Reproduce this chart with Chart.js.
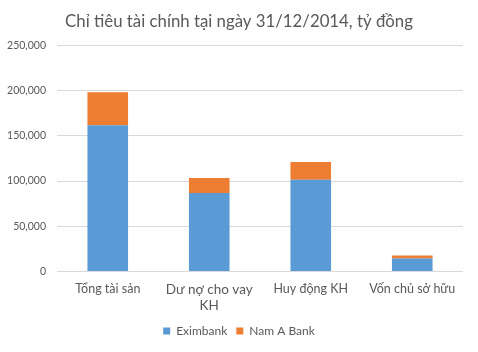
<!DOCTYPE html>
<html><head><meta charset="utf-8">
<script src="https://cdn.jsdelivr.net/npm/chart.js@4"></script>
<style>html,body{margin:0;padding:0;background:#fff}#wrap{width:478px;height:352px}</style>
</head><body><div id="wrap"><canvas id="c" width="478" height="352"></canvas></div>
<script>
const categories = ["Tổng tài sản", ["Dư nợ cho vay", "KH"], "Huy động KH", "Vốn chủ sở hữu"];
const eximbank = [161500, 86700, 101500, 14400];
const namABank = [36500, 16700, 19600, 3300];
const seriesNames = ["Eximbank", "Nam A Bank"];
const yTicks = [0, 50000, 100000, 150000, 200000, 250000];

const FONT = "Lato, 'Open Sans', sans-serif";
new Chart(document.getElementById('c'), {
  type: 'bar',
  data: {
    labels: categories,
    datasets: [
      {label: seriesNames[0], data: eximbank, backgroundColor: '#5B9BD5', categoryPercentage: 1, barPercentage: 0.4},
      {label: seriesNames[1], data: namABank, backgroundColor: '#ED7D31', categoryPercentage: 1, barPercentage: 0.4}
    ]
  },
  options: {
    responsive: false,
    animation: false,
    layout: {padding: {left: 0, right: 0, top: 8, bottom: 5}},
    plugins: {
      title: {display: true, text: "Chỉ tiêu tài chính tại ngày 31/12/2014, tỷ đồng", color: '#595959',
        font: {family: FONT, size: 16.8, weight: 'normal'}, padding: {top: 4, bottom: 13}},
      legend: {position: 'bottom', labels: {boxWidth: 7, boxHeight: 7, color: '#595959', padding: 9,
        font: {family: FONT, size: 12}}},
      tooltip: {enabled: false}
    },
    scales: {
      x: {stacked: true,
        grid: {display: false},
        border: {display: false},
        ticks: {color: '#595959', padding: 2, maxRotation: 0, autoSkip: false,
          font: (ctx) => ({family: FONT, size: ctx.index === 1 ? 13.5 : 12.5})}
      },
      y: {stacked: true, min: 0, max: 250000,
        afterBuildTicks: (s) => { s.ticks = yTicks.map(v => ({value: v})); },
        afterFit: (s) => { s.width = 57; },
        grid: {color: '#D9D9D9', lineWidth: 1, drawTicks: false},
        border: {display: false},
        ticks: {color: '#595959', padding: 11, font: {family: FONT, size: 10.5},
          callback: (v) => v.toLocaleString('en-US')}
      },
      yRight: {position: 'right', display: true, min: 0, max: 1,
        afterFit: (s) => { s.width = 15; },
        grid: {display: false}, border: {display: false}, ticks: {display: false}
      }
    }
  }
});
</script></body></html>
